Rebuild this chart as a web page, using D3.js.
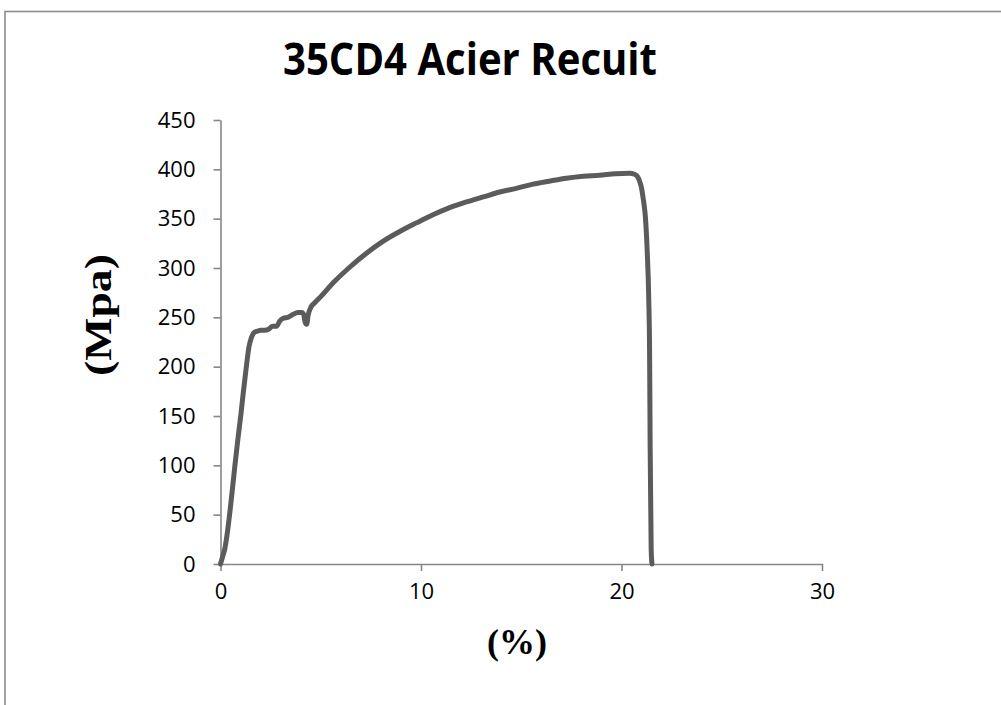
<!DOCTYPE html>
<html>
<head>
<meta charset="utf-8">
<script src="https://cdn.jsdelivr.net/npm/d3@7"></script>
<style>
  html, body { margin: 0; padding: 0; background: #fff; }
  svg { display: block; }
</style>
</head>
<body>
<svg id="chart" width="1001" height="705"></svg>
<script>
// Tensile test of annealed 35CD4 steel: strain (%) vs stress (MPa)
const strain = [0, 0.1, 0.22, 0.35, 0.47, 0.6, 0.72, 0.87, 1.02, 1.15, 1.3, 1.42, 1.55, 1.7, 1.85,
  2.0, 2.2, 2.4, 2.6, 2.8, 2.95, 3.13, 3.35, 3.63, 3.85, 4.05, 4.15, 4.22, 4.3, 4.37, 4.5, 4.71,
  5.0, 5.62, 6.4, 7.28, 8.1, 8.94, 9.8, 10.6, 11.4, 12.27, 13.1, 13.93, 14.8, 15.59, 16.4, 17.25,
  18.1, 18.9, 19.7, 20.4, 20.65, 20.82, 20.92, 21.0, 21.07, 21.12, 21.19, 21.28, 21.36, 21.4,
  21.43, 21.48, 21.52];
const stress = [0, 7, 16, 33, 53, 77, 100, 127, 152, 176, 202, 220, 230, 235, 236,
  237, 237, 238, 241, 241, 246, 249, 250, 253, 255, 255, 253, 245, 243, 252, 260, 265,
  271, 285, 300, 315, 327, 337, 346, 354, 361, 367, 372, 377, 381, 385, 388, 391,
  393, 394, 395.5, 396, 395, 392, 387, 381, 372, 365, 352, 318, 268, 217,
  116, 15, 0];

const xTicks = [0, 10, 20, 30];
const yTicks = [0, 50, 100, 150, 200, 250, 300, 350, 400, 450];

const titleText = "35CD4 Acier Recuit";
const xLabel = "(%)";
const yLabel = "(Mpa)";

const svg = d3.select("#chart");
const axisColor = "#868686";

// chart frame
svg.append("rect")
  .attr("x", 5).attr("y", 11.5)
  .attr("width", 1100).attr("height", 800)
  .attr("fill", "none")
  .attr("stroke", "#8c8c8c")
  .attr("stroke-width", 1.6);

const x = d3.scaleLinear().domain([0, 30]).range([220.5, 822]);
const y = d3.scaleLinear().domain([0, 450]).range([564, 120]);

// y axis
const yAxis = svg.append("g")
  .attr("transform", `translate(${x(0)},0)`)
  .call(d3.axisLeft(y).tickValues(yTicks).tickSize(7).tickPadding(18).tickSizeOuter(0));
// x axis
const xAxis = svg.append("g")
  .attr("transform", `translate(0,${y(0)})`)
  .call(d3.axisBottom(x).tickValues(xTicks).tickSize(7).tickPadding(12).tickSizeOuter(0));

[xAxis, yAxis].forEach(g => {
  g.select(".domain").attr("stroke", axisColor).attr("stroke-width", 1.6);
  g.selectAll(".tick line").attr("stroke", axisColor).attr("stroke-width", 1.6);
  g.selectAll(".tick text")
    .attr("fill", "#000")
    .style("font-family", "'Open Sans', sans-serif")
    .style("font-size", "22px")
    .style("font-weight", "500");
});

// stress-strain curve
const pts = strain.map((s, i) => [s, stress[i]]);
svg.append("path")
  .datum(pts)
  .attr("fill", "none")
  .attr("stroke", "#5b5b5b")
  .attr("stroke-width", 5)
  .attr("stroke-linejoin", "round")
  .attr("stroke-linecap", "round")
  .attr("d", d3.line().x(d => x(d[0])).y(d => y(d[1])).curve(d3.curveMonotoneX));

// title
const title = svg.append("text")
  .attr("x", 470).attr("y", 75)
  .attr("text-anchor", "middle")
  .style("font-family", "'Open Sans', sans-serif")
  .style("font-weight", "bold")
  .style("font-size", "44px")
  .text(titleText);
const tw = title.node().getComputedTextLength();
if (tw > 374) title.attr("textLength", 374).attr("lengthAdjust", "spacingAndGlyphs");

// axis titles
svg.append("text")
  .attr("x", 517).attr("y", 654)
  .attr("text-anchor", "middle")
  .style("font-family", "'Liberation Serif', 'Times New Roman', serif")
  .style("font-weight", "bold")
  .style("font-size", "36px")
  .text(xLabel);

svg.append("text")
  .attr("transform", "translate(111,315) rotate(-90)")
  .attr("text-anchor", "middle")
  .attr("textLength", 122)
  .attr("lengthAdjust", "spacingAndGlyphs")
  .style("font-family", "'Liberation Serif', 'Times New Roman', serif")
  .style("font-weight", "bold")
  .style("font-size", "37px")
  .text(yLabel);
</script>
</body>
</html>
